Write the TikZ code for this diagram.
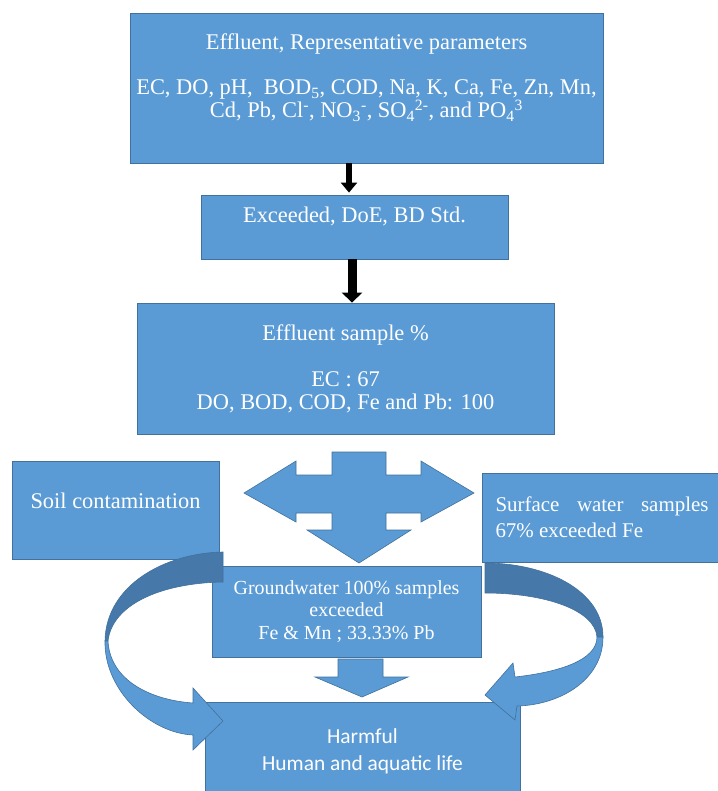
\documentclass[tikz,border=0pt]{standalone}
\usepackage{fontspec}
\setmainfont{Liberation Serif}
\newfontfamily\calibri{Carlito}
\usetikzlibrary{arrows.meta, calc}
\definecolor{boxblue}{RGB}{91,155,213}
\definecolor{edgeblue}{RGB}{65,113,156}
\definecolor{bandblue}{RGB}{70,120,170}

\begin{document}
\begin{tikzpicture}[x=1bp, y=-1bp,
    box/.style={rectangle, draw=edgeblue, line width=0.8bp, fill=boxblue, text=white, align=center, inner sep=0pt, font=\fontsize{22.5}{23}\selectfont},
    shape arrow/.style={fill=boxblue, draw=edgeblue, line width=0.6bp},
    band/.style={fill=bandblue, draw=edgeblue, line width=0.6bp},
    arrow/.style={-{Triangle[width=16bp, length=10bp]}, line width=6bp}
]
\clip (0,0) rectangle (718,791);
\fill[white] (0,0) rectangle (718,791);

\node[box, minimum width=473bp, minimum height=150bp] (eff) at (366.5,88) {Effluent, Representative parameters\\[23bp]
  EC, DO, pH,\ \ BOD\textsubscript{5}, COD, Na, K, Ca, Fe, Zn, Mn,\\
  Cd, Pb, Cl\textsuperscript{-}, NO\textsubscript{3}\textsuperscript{-}, SO\textsubscript{4}\textsuperscript{2-}, and PO\textsubscript{4}\textsuperscript{3}\\[2bp]\mbox{}};
\node[box, minimum width=307bp, minimum height=64bp] (exc) at (354.5,227) {Exceeded, DoE, BD Std.\\[2bp]\mbox{}};
\node[box, minimum width=417bp, minimum height=131bp] (samp) at (345.5,368.5) {Effluent sample \%\\[23bp]EC : 67\\DO, BOD, COD, Fe and Pb: 100};
\node[box, minimum width=207bp, minimum height=98bp] (soil) at (115.5,510) {Soil contamination\\[-4bp]\mbox{}};
\node[box, minimum width=240bp, minimum height=89bp, text width=213bp, align=justify, font=\fontsize{21}{26}\selectfont] (surf) at (602,517.5) {Surface water samples\linebreak 67\% exceeded Fe};
\node[box, minimum width=269bp, minimum height=91bp, font=\fontsize{20}{22.5}\selectfont] (gw) at (346.5,611.5) {Groundwater 100\% samples\\exceeded\\Fe \& Mn ; 33.33\% Pb};
\node[box, minimum width=315bp, minimum height=98bp, font=\calibri\fontsize{21.5}{27}\selectfont] (harm) at (362.5,751) {Harmful\\Human and aquatic life};

\coordinate (a1) at (349,0);
\coordinate (a2) at (352,0);
\draw[arrow, shorten >=2bp] (eff.south -| a1) -- (exc.north -| a1);
\draw[arrow, line width=9bp, -{Triangle[width=20bp, length=10bp]}] (exc.south -| a2) -- (samp.north -| a2);

\filldraw[shape arrow] (332,452) -- (386,452) -- (386,475) -- (421,475) -- (421,461) -- (474,493) -- (421,522) -- (421,513) -- (386,513) -- (386,530) -- (411,530) -- (359,563) -- (307,530) -- (332,530) -- (332,513) -- (296,513) -- (296,522) -- (244,493) -- (296,461) -- (296,475) -- (332,475) -- cycle;
\filldraw[shape arrow] (338,659) -- (383,659) -- (383,677) -- (408,677) -- (362,697) -- (315,677) -- (338,677) -- cycle;

\filldraw[band] (223,552) .. controls (165,553) and (106,585) .. (105,641) -- (108,641) .. controls (112,605) and (160,583) .. (223,582) -- cycle;
\filldraw[shape arrow] (105,641) .. controls (104,690) and (150,733) .. (193,735) -- (193,750) -- (223,721) -- (193,688) -- (193,703) .. controls (150,700) and (110,680) .. (108,641) -- cycle;
\filldraw[band] (485,563) .. controls (545,563) and (603,590) .. (603,637) -- (597,637) .. controls (595,610) and (545,593) .. (485,593) -- cycle;
\filldraw[shape arrow] (603,637) .. controls (603,680) and (560,705) .. (517,706) -- (515,720) -- (485,695) -- (513,663) -- (515,677) .. controls (560,672) and (597,660) .. (597,637) -- cycle;
\end{tikzpicture}
\end{document}
